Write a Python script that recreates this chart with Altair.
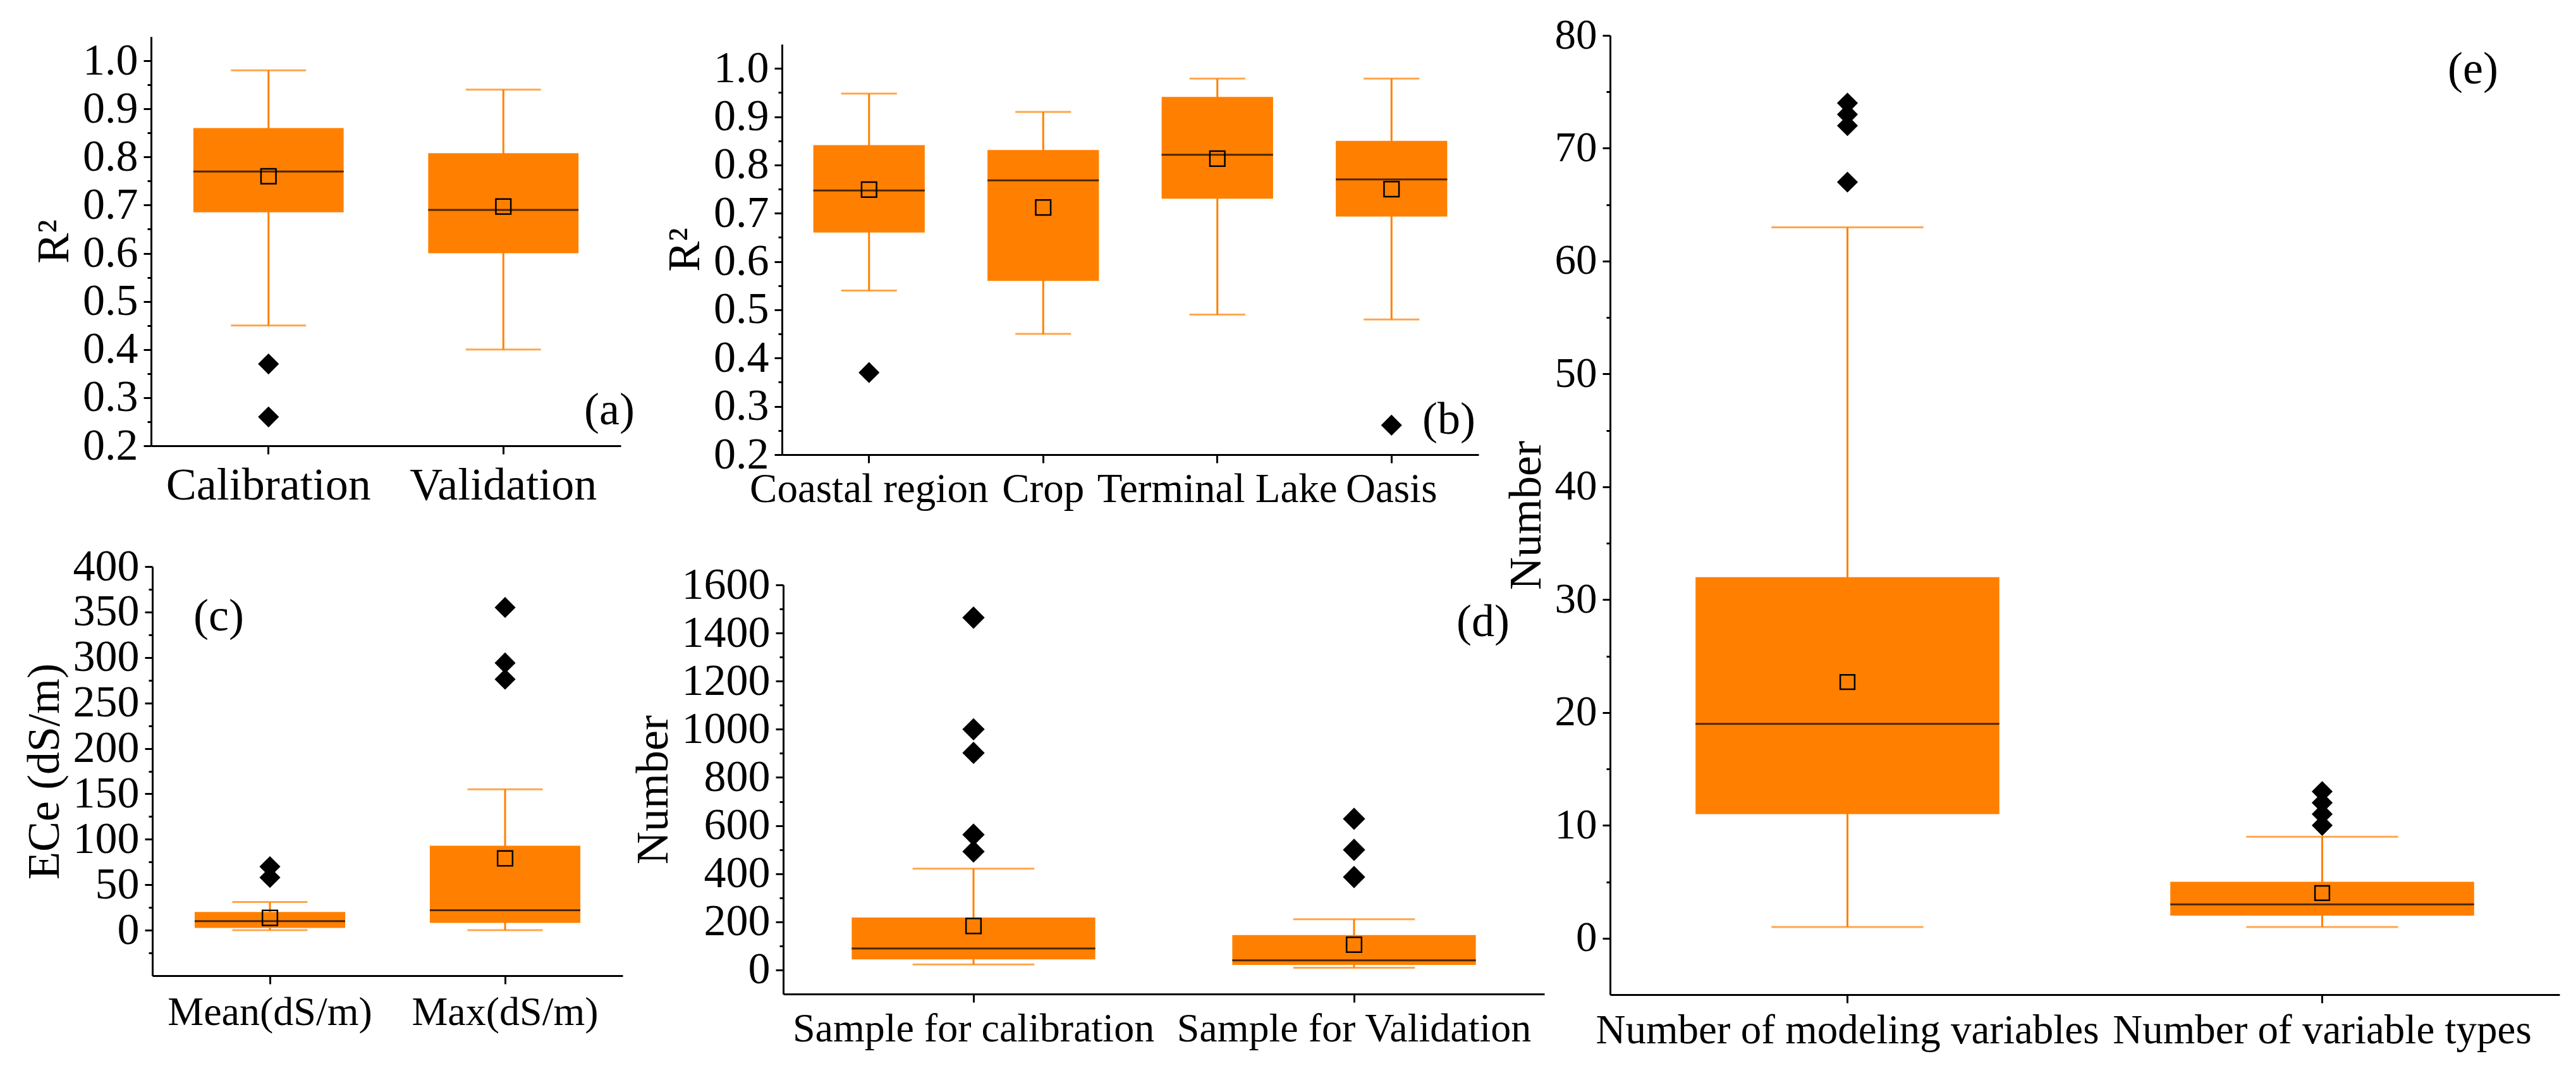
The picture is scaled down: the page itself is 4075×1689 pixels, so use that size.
import altair as alt
import pandas as pd

FONT = "Liberation Serif"
ORANGE = "#FF8000"
W, H = 4055, 1668

# ---------------- data ----------------
# (a)
a_cats = ["Calibration", "Validation"]
a_low = [0.45, 0.40]
a_q1 = [0.685, 0.60]
a_med = [0.77, 0.69]
a_q3 = [0.86, 0.808]
a_high = [0.98, 0.94]
a_mean = [0.76, 0.697]
a_out_cat = ["Calibration", "Calibration"]
a_out_val = [0.37, 0.26]

# (b)
b_cats = ["Coastal region", "Crop", "Terminal Lake", "Oasis"]
b_low = [0.54, 0.45, 0.49, 0.48]
b_q1 = [0.66, 0.56, 0.73, 0.693]
b_med = [0.747, 0.768, 0.821, 0.77]
b_q3 = [0.841, 0.831, 0.941, 0.85]
b_high = [0.948, 0.91, 0.979, 0.979]
b_mean = [0.749, 0.712, 0.813, 0.75]
b_out_cat = ["Coastal region", "Oasis"]
b_out_val = [0.37, 0.261]

# (c)
c_cats = ["Mean(dS/m)", "Max(dS/m)"]
c_low = [0, 0]
c_q1 = [2.5, 8]
c_med = [10, 22]
c_q3 = [20, 93]
c_high = [31, 155]
c_mean = [13.5, 79]
c_out_cat = ["Mean(dS/m)", "Mean(dS/m)", "Max(dS/m)", "Max(dS/m)", "Max(dS/m)"]
c_out_val = [70, 58, 355, 294, 276]

# (d)
d_cats = ["Sample for calibration", "Sample for Validation"]
d_low = [23, 9]
d_q1 = [44, 21]
d_med = [89, 40]
d_q3 = [218, 145]
d_high = [421, 211]
d_mean = [183, 105]
d_out_cat = ["Sample for calibration"] * 5 + ["Sample for Validation"] * 3
d_out_val = [1464, 1000, 902, 562, 492, 628, 499, 386]

# (e)
e_cats = ["Number of modeling variables", "Number of variable types"]
e_low = [1, 1]
e_q1 = [11, 2]
e_med = [19, 3]
e_q3 = [32, 5]
e_high = [63, 9]
e_mean = [22.7, 4.0]
e_out_cat = ["Number of modeling variables"] * 4 + ["Number of variable types"] * 4
e_out_val = [74, 73, 72, 67, 13, 12, 11, 10]

# tick values
r2_major = [0.2, 0.3, 0.4, 0.5, 0.6, 0.7, 0.8, 0.9, 1.0]
r2_minor = [0.25, 0.35, 0.45, 0.55, 0.65, 0.75, 0.85, 0.95]
c_major = [0, 50, 100, 150, 200, 250, 300, 350, 400]
c_minor = [-25, 25, 75, 125, 175, 225, 275, 325, 375]
d_major = [0, 200, 400, 600, 800, 1000, 1200, 1400, 1600]
d_minor = [100, 300, 500, 700, 900, 1100, 1300, 1500]
e_major = [0, 10, 20, 30, 40, 50, 60, 70, 80]
e_minor = [5, 15, 25, 35, 45, 55, 65, 75]


def panel(cats, low, q1, med, q3, high, mean, out_cat, out_val, *,
          xr, yr, ydom, major, minor, fmt, ytitle, xfs, xpad, yfs=70,
          dsize=1100, msize=560):
    band = (xr[1] - xr[0]) / len(cats)
    df = pd.DataFrame(dict(cat=cats, low=low, q1=q1, med=med, q3=q3,
                           high=high, mean=mean))
    odf = pd.DataFrame(dict(cat=out_cat, val=out_val))

    xaxis = alt.Axis(orient="bottom", offset=yr[0] - H, labelAngle=0,
                     labelFontSize=xfs, labelPadding=xpad, tickSize=13)
    x = alt.X("cat:N", sort=cats, title=None,
              scale=alt.Scale(domain=cats, range=list(xr),
                              paddingInner=0, paddingOuter=0),
              axis=xaxis)
    ysc = alt.Scale(domain=ydom, range=list(yr), zero=False, nice=False)
    ymajor = alt.Axis(orient="left", offset=-xr[0], values=major, format=fmt,
                      labelFontSize=yfs, labelPadding=9, tickSize=12,
                      titleFontSize=72, titlePadding=8)
    yminor = alt.Axis(orient="left", offset=-xr[0], values=minor,
                      labels=False, domain=False, tickSize=6)

    base = alt.Chart(df)
    whisker = base.mark_rule(color=ORANGE, strokeWidth=3).encode(
        x=x, y=alt.Y("low:Q", scale=ysc, axis=ymajor, title=ytitle),
        y2="high:Q")
    cap_lo = base.mark_tick(color=ORANGE, thickness=3,
                            size=band * 0.32).encode(
        x=x, y=alt.Y("low:Q", scale=ysc, axis=yminor, title=None))
    cap_hi = base.mark_tick(color=ORANGE, thickness=3,
                            size=band * 0.32).encode(
        x=x, y=alt.Y("high:Q", scale=ysc, axis=None))
    box = base.mark_bar(color=ORANGE,
                        width=alt.RelativeBandSize(0.64)).encode(
        x=x, y=alt.Y("q1:Q", scale=ysc, axis=None), y2="q3:Q")
    median = base.mark_tick(color="black", thickness=3,
                            size=band * 0.64).encode(
        x=x, y=alt.Y("med:Q", scale=ysc, axis=None))
    meanpt = base.mark_point(shape="square", filled=False, color="black",
                             strokeWidth=2.5, size=msize, opacity=1).encode(
        x=x, y=alt.Y("mean:Q", scale=ysc, axis=None))
    outl = alt.Chart(odf).mark_point(shape="diamond", filled=True,
                                     color="black", size=dsize,
                                     opacity=1).encode(
        x=x, y=alt.Y("val:Q", scale=ysc, axis=None))
    return alt.layer(whisker, cap_lo, cap_hi, box, median, meanpt,
                     outl).resolve_axis(y="independent")


def tag(text, px, py):
    return alt.Chart(pd.DataFrame({"t": [text]})).mark_text(
        font=FONT, fontSize=72, color="black", align="center",
        baseline="middle").encode(text="t:N", x=alt.value(px),
                                  y=alt.value(py))


pa = panel(a_cats, a_low, a_q1, a_med, a_q3, a_high, a_mean, a_out_cat,
           a_out_val, xr=(231, 974), yr=(697, 50), ydom=[0.2, 1.05],
           major=r2_major, minor=r2_minor, fmt=".1f", ytitle="R²",
           xfs=72, xpad=14)
pb = panel(b_cats, b_low, b_q1, b_med, b_q3, b_high, b_mean, b_out_cat,
           b_out_val, xr=(1229, 2331), yr=(711, 62), ydom=[0.2, 1.05],
           major=r2_major, minor=r2_minor, fmt=".1f", ytitle="R²",
           xfs=65, xpad=10)
pc = panel(c_cats, c_low, c_q1, c_med, c_q3, c_high, c_mean, c_out_cat,
           c_out_val, xr=(233, 977), yr=(1535, 888), ydom=[-50, 400],
           major=c_major, minor=c_minor, fmt="d", ytitle="ECe (dS/m)",
           xfs=64, xpad=13)
pd_ = panel(d_cats, d_low, d_q1, d_med, d_q3, d_high, d_mean, d_out_cat,
            d_out_val, xr=(1231, 2435), yr=(1564, 917), ydom=[-100, 1600],
            major=d_major, minor=d_minor, fmt="d", ytitle="Number",
            xfs=64, xpad=10, dsize=1250)
pe = panel(e_cats, e_low, e_q1, e_med, e_q3, e_high, e_mean, e_out_cat,
           e_out_val, xr=(2539, 4041), yr=(1565, 48), ydom=[-5, 80],
           major=e_major, minor=e_minor, fmt="d", ytitle="Number",
           xfs=65, xpad=12, yfs=67, msize=520)

chart = alt.layer(
    pa, pb, pc, pd_, pe,
    tag("(a)", 956, 641), tag("(b)", 2284, 656), tag("(c)", 338, 967),
    tag("(d)", 2338, 976), tag("(e)", 3904, 102),
).resolve_scale(x="independent", y="independent").properties(
    width=W, height=H, padding=0,
    autosize=alt.AutoSizeParams(type="none"),
).configure_view(strokeWidth=0).configure_axis(
    labelFont=FONT, titleFont=FONT, labelColor="black", titleColor="black",
    titleFontWeight="normal", domainColor="black", domainWidth=3,
    tickColor="black", tickWidth=3, grid=False, labelOverlap=False,
    labelLimit=3000,
)

chart.save("out.html", embed_options={"renderer": "svg", "actions": False})
